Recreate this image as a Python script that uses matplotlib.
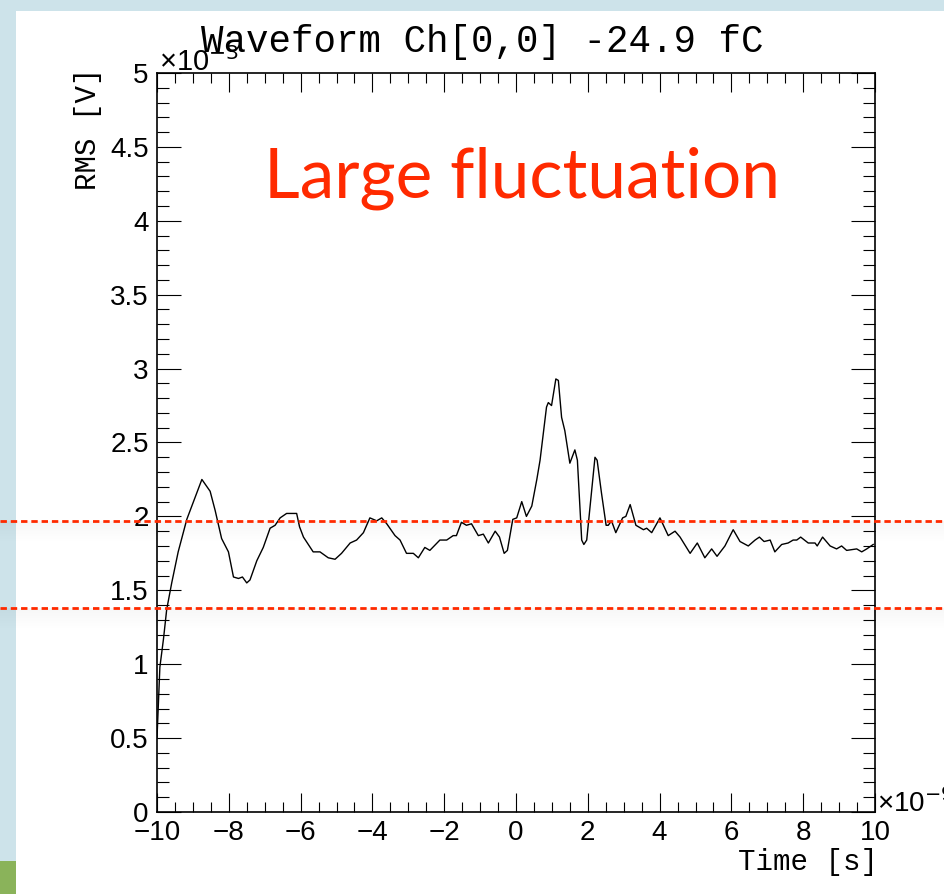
import matplotlib
matplotlib.use("Agg")
import matplotlib.pyplot as plt
from matplotlib.lines import Line2D
from matplotlib.patches import Rectangle
from matplotlib.ticker import MultipleLocator, FuncFormatter

# ── data (time in ns, RMS in mV) ─────────────────────────────────────────────
time_ns = [
    -10.0, -9.92, -9.82, -9.73, -9.59, -9.41, -9.17, -9.03, -8.75, -8.52,
    -8.38, -8.20, -8.01, -7.87, -7.73, -7.62, -7.50, -7.41, -7.22, -7.04,
    -6.85, -6.71, -6.57, -6.39, -6.20, -6.11, -6.03, -5.92, -5.65, -5.46,
    -5.23, -5.04, -4.86, -4.62, -4.44, -4.25, -4.07, -3.88, -3.74, -3.60,
    -3.37, -3.23, -3.05, -2.86, -2.72, -2.54, -2.40, -2.12, -1.93, -1.75,
    -1.66, -1.52, -1.38, -1.24, -1.05, -0.91, -0.77, -0.58, -0.46, -0.33,
    -0.24, -0.09, 0.02, 0.16, 0.29, 0.44, 0.58, 0.67, 0.85, 0.90,
    0.99, 1.11, 1.18, 1.27, 1.36, 1.50, 1.64, 1.71, 1.83, 1.89,
    1.97, 2.20, 2.26, 2.38, 2.51, 2.57, 2.66, 2.78, 2.97, 3.06,
    3.18, 3.34, 3.55, 3.64, 3.78, 4.01, 4.24, 4.43, 4.57, 4.85,
    5.05, 5.26, 5.45, 5.60, 5.82, 6.05, 6.24, 6.47, 6.66, 6.78,
    6.91, 7.08, 7.21, 7.40, 7.58, 7.72, 7.82, 7.93, 8.14, 8.33,
    8.39, 8.54, 8.75, 8.93, 9.07, 9.21, 9.49, 9.63, 9.77, 9.95,
]
rms_mv = [
    0.50, 0.98, 1.17, 1.37, 1.55, 1.76, 1.98, 2.07, 2.25, 2.17,
    2.04, 1.85, 1.76, 1.59, 1.58, 1.59, 1.55, 1.57, 1.70, 1.79,
    1.92, 1.94, 1.99, 2.02, 2.02, 2.02, 1.93, 1.86, 1.76, 1.76,
    1.72, 1.71, 1.75, 1.82, 1.84, 1.89, 1.99, 1.97, 1.99, 1.95,
    1.87, 1.84, 1.75, 1.75, 1.72, 1.79, 1.77, 1.84, 1.84, 1.87,
    1.87, 1.96, 1.94, 1.95, 1.87, 1.88, 1.82, 1.90, 1.86, 1.75,
    1.77, 1.98, 1.99, 2.10, 2.00, 2.07, 2.25, 2.38, 2.74, 2.77,
    2.75, 2.93, 2.92, 2.67, 2.58, 2.36, 2.45, 2.38, 1.84, 1.81,
    1.84, 2.40, 2.38, 2.16, 1.94, 1.94, 1.97, 1.89, 1.99, 2.00,
    2.08, 1.94, 1.91, 1.92, 1.89, 1.99, 1.87, 1.90, 1.86, 1.75,
    1.82, 1.72, 1.78, 1.73, 1.80, 1.91, 1.83, 1.80, 1.84, 1.86,
    1.83, 1.84, 1.76, 1.81, 1.82, 1.84, 1.84, 1.86, 1.82, 1.82,
    1.80, 1.86, 1.80, 1.78, 1.80, 1.77, 1.78, 1.76, 1.78, 1.81,
]
band_levels = [1.966, 1.380]  # red dashed guide lines (mV)

title = "Waveform Ch[0,0] -24.9 fC"
annotation = "Large fluctuation"

W, H = 944, 894
RED = "#ff2a00"
BLUE_BG = "#cde3ea"
GREEN = "#8ab35a"
MONO = "Liberation Mono"
SANS = "Liberation Sans"

fig = plt.figure(figsize=(W / 100, H / 100), dpi=100)
fig.patch.set_facecolor(BLUE_BG)

# slide background: white panel + green corner block
fig.add_artist(Rectangle((16 / W, 0), 1 - 16 / W, (H - 11) / H,
                         transform=fig.transFigure, facecolor="white",
                         edgecolor="none", zorder=-10))
fig.add_artist(Rectangle((0, 0), 16 / W, (H - 861) / H,
                         transform=fig.transFigure, facecolor=GREEN,
                         edgecolor="none", zorder=-10))

ax = fig.add_axes([157 / W, (H - 812) / H, 718 / W, 739 / H])
ax.plot(time_ns, rms_mv, color="black", lw=1.0)
ax.set_xlim(-10, 10)
ax.set_ylim(0, 5)

# ROOT-like ticks
ax.xaxis.set_major_locator(MultipleLocator(2))
ax.xaxis.set_minor_locator(MultipleLocator(0.5))
ax.yaxis.set_major_locator(MultipleLocator(0.5))
ax.yaxis.set_minor_locator(MultipleLocator(0.1))
fmt = FuncFormatter(lambda v, p: f"{v:g}".replace("-", "\u2212"))
ax.xaxis.set_major_formatter(fmt)
ax.yaxis.set_major_formatter(fmt)
ax.tick_params(which="both", direction="in", top=True, right=True,
               width=0.8, labelsize=20)
ax.tick_params(axis="x", which="major", length=14, pad=6)
ax.tick_params(axis="x", which="minor", length=7)
ax.tick_params(axis="y", which="major", length=17, pad=6)
ax.tick_params(axis="y", which="minor", length=8.5)
for lab in ax.get_xticklabels() + ax.get_yticklabels():
    lab.set_family(SANS)
for sp in ax.spines.values():
    sp.set_linewidth(1.2)

# axis titles and exponents
fig.text(878 / W, 1 - 862 / H, "Time [s]", family=MONO, fontsize=21,
         ha="right", va="center")
fig.text(88 / W, 1 - 68 / H, "RMS [V]", family=MONO, fontsize=21,
         rotation=90, ha="center", va="top")
fig.text(159 / W, 1 - 71 / H, "\u00d710$^{-3}$", family=SANS, fontsize=21,
         ha="left", va="baseline")
fig.text(877 / W, 1 - 812 / H, "\u00d710$^{-9}$", family=SANS, fontsize=20,
         ha="left", va="baseline")
fig.text(482 / W, 1 - 42 / H, title, family=MONO, fontsize=27,
         ha="center", va="center")

fig.text(522 / W, 1 - 197 / H, annotation, family="Lato",
         fontsize=50, color=RED, ha="center", va="baseline")

# red dashed guide lines across the whole slide, with a faint shadow
for lvl in band_levels:
    yf = ax.transData.transform((0, lvl))[1] / H
    for k in range(8):
        fig.add_artist(Rectangle((0, yf - (k + 1) * 2.5 / H), 1, (k + 1) * 2.5 / H,
                                 transform=fig.transFigure, facecolor="black",
                                 alpha=0.005, edgecolor="none", zorder=4))
    fig.add_artist(Line2D([0, 1], [yf, yf], transform=fig.transFigure,
                          color=RED, lw=2.0, ls=(0, (2.3, 1.4)), zorder=5))

fig.savefig("out.png", dpi=100, facecolor=fig.get_facecolor())
